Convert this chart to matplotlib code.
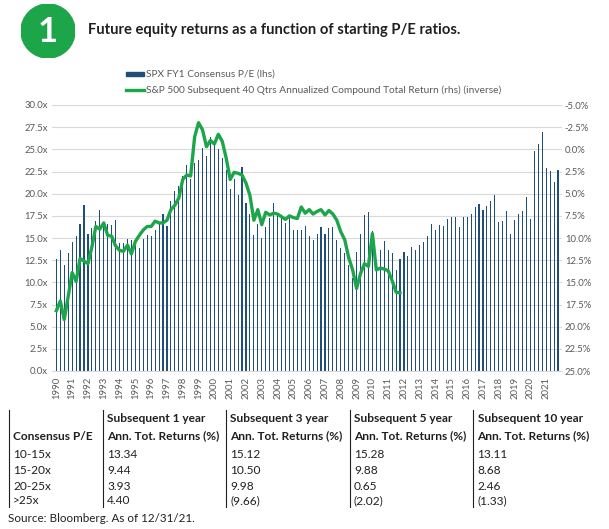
import matplotlib
matplotlib.use("Agg")
import matplotlib.pyplot as plt
import numpy as np
from matplotlib.patches import Circle, Rectangle
from matplotlib.lines import Line2D

plt.rcParams['font.family'] = ['Lato', 'DejaVu Sans']

# quarterly data, 1990 Q1 .. 2021 Q4
years = list(range(1990, 2022))
pe = [
    12.6, 13.7, 12.0, 13.3,  14.5, 15.2, 16.6, 18.7,  15.5, 16.1, 16.9, 18.2,
    16.2, 16.6, 16.5, 17.0,  14.4, 14.4, 14.9, 14.8,  14.7, 13.9, 14.9, 15.3,
    15.2, 15.9, 16.7, 17.7,  16.4, 19.2, 20.3, 20.9,  22.0, 23.2, 21.6, 23.5,
    23.8, 25.2, 24.3, 26.4,  25.6, 25.0, 24.0, 22.7,  20.5, 21.7, 19.9, 23.0,
    19.0, 17.7, 15.3, 16.6,  15.0, 16.2, 17.3, 18.9,  17.6, 17.4, 16.7, 17.3,
    15.9, 15.9, 15.9, 16.3,  15.2, 14.8, 15.4, 16.2,  15.4, 16.1, 16.2, 14.8,
    13.9, 13.3, 12.0, 10.5,  13.4, 15.5, 17.6, 17.9,  15.8, 12.0, 13.7, 14.7,
    13.6, 13.3, 11.4, 12.6,  13.4, 13.0, 14.0, 13.7,  14.2, 14.5, 15.2, 16.6,
    15.9, 16.5, 16.4, 17.1,  17.4, 17.4, 16.2, 17.4,  17.4, 17.7, 18.5, 18.8,
    18.2, 18.6, 19.2, 19.9,  16.8, 16.9, 18.0, 15.4,  17.0, 17.7, 18.0, 19.6,
    17.1, 24.8, 25.6, 27.0,  22.9, 22.6, 21.3, 22.7,
]
# subsequent 10y annualized return (%), 1990 Q1 .. 2011 Q4
ret10 = [
    18.2, 17.1, 19.2, 16.6,  13.9, 14.9, 12.3, 12.6,  12.9, 11.0, 8.7, 9.0,
    8.3, 9.7, 9.8, 10.9,  11.4, 11.5, 10.8, 11.8,  10.4, 9.7, 9.1, 8.7,
    8.7, 8.1, 8.3, 8.3,  8.0, 6.8, 6.3, 5.5,  3.4, 2.9, 3.0, -1.4,
    -3.0, -2.2, -0.3, -1.0,  -0.6, -1.7, -0.9, 1.0,  3.4, 2.6, 2.7, 2.9,
    3.8, 5.2, 8.0, 6.8,  8.5, 7.1, 7.4, 7.2,  7.3, 7.6, 7.9, 7.5,
    7.7, 7.8, 6.5, 7.2,  6.8, 7.3, 7.0, 6.8,  7.4, 6.9, 7.3, 8.0,
    9.3, 10.2, 12.2, 13.6,  15.7, 14.0, 12.9, 13.2,  9.5, 13.6, 13.4, 13.5,
    13.7, 14.8, 16.1, 16.2,
]

# table
row_labels = ["10-15x", "15-20x", "20-25x", ">25x"]
col_heads = ["Subsequent 1 year", "Subsequent 3 year", "Subsequent 5 year", "Subsequent 10 year"]
ret_1y = ["13.34", "9.44", "3.93", "4.40"]
ret_3y = ["15.12", "10.50", "9.98", "(9.66)"]
ret_5y = ["15.28", "9.88", "0.65", "(2.02)"]
ret_10y = ["13.11", "8.68", "2.46", "(1.33)"]

W, H = 609, 529
fig = plt.figure(figsize=(W / 100, H / 100), dpi=100)


def fx(px):
    return px / W


def fy(py):
    return 1 - py / H


def fit_width(txt, target):
    fig.canvas.draw()
    w = txt.get_window_extent(fig.canvas.get_renderer()).width
    txt.set_fontsize(txt.get_fontsize() * target / w)


green = '#1DA54A'
navy = '#1F4E79'
grey = '#595959'
ink = '#231F20'

# badge + title
bax = fig.add_axes([fx(21), fy(58), 54 / W, 54 / H])
bax.set_xlim(0, 1)
bax.set_ylim(0, 1)
bax.axis('off')
bax.add_patch(Circle((0.5, 0.5), 0.5, color=green))
bax.text(0.5, 0.49, "1", color='white', fontsize=25, fontweight='bold',
         ha='center', va='center')

title = fig.text(fx(88), fy(30), "Future equity returns as a function of starting P/E ratios.",
                 fontsize=11, fontweight='bold', color=ink, va='center')
fit_width(title, 371)

# main chart
ax = fig.add_axes([fx(52), fy(371), fx(562) - fx(52), fy(105) - fy(371)])
x = np.arange(len(pe))
ax.bar(x, pe, width=0.28, color=navy, zorder=2)
ax.set_ylim(0, 30)
ax.set_yticks(np.arange(0, 30.1, 2.5))
ax.yaxis.set_major_formatter(lambda v, p: f"{v:.1f}x")
ax.set_xlim(-1.1, 128)
ax.set_xticks(np.arange(0, len(pe), 4))
ax.set_xticklabels([str(y) for y in years], rotation=90)
ax.grid(axis='y', color='#D9D9D9', linewidth=0.8)
ax.set_axisbelow(True)
ax.tick_params(length=0, labelsize=6.8, labelcolor=grey)
ax.tick_params(axis='y', pad=3)
ax.tick_params(axis='x', pad=4)
for s in ax.spines.values():
    s.set_visible(False)
ax.spines['bottom'].set_visible(True)
ax.spines['bottom'].set_color('#D9D9D9')

ax2 = ax.twinx()
ax2.plot(np.arange(len(ret10)), ret10, color=green, lw=2.4, solid_joinstyle='round', zorder=3)
ax2.set_ylim(25, -5)
ax2.set_yticks(np.arange(-5, 25.1, 2.5))
ax2.yaxis.set_major_formatter(lambda v, p: f"{v:.1f}%")
ax2.tick_params(length=0, labelsize=6.8, labelcolor=grey, pad=2)
for s in ax2.spines.values():
    s.set_visible(False)

# legend (drawn by hand to sit above the plot)
fig.patches.append(Rectangle((fx(126), fy(76)), 18 / W, 4 / H, color=navy,
                             transform=fig.transFigure, figure=fig))
fig.lines.append(Line2D([fx(126), fx(144)], [fy(90), fy(90)], color=green, lw=2.4,
                        transform=fig.transFigure, figure=fig))
leg1 = fig.text(fx(146), fy(74), "SPX FY1 Consensus P/E (lhs)", fontsize=6.5,
                color=grey, va='center')
leg2 = fig.text(fx(146), fy(90),
                "S&P 500 Subsequent 40 Qtrs Annualized Compound Total Return (rhs) (inverse)",
                fontsize=6.5, color=grey, va='center')
fit_width(leg2, 352)
leg1.set_fontsize(leg2.get_fontsize())

# table
col_x = [8.5, 102.5, 226, 349.5, 473]
for cx in col_x:
    fig.lines.append(Line2D([fx(cx), fx(cx)], [fy(410), fy(507)], color=ink, lw=0.8,
                            transform=fig.transFigure, figure=fig))
fs = 8.6
fig.text(fx(col_x[0] + 4.5), fy(436), "Consensus P/E", fontsize=fs, fontweight='bold',
         color=ink, va='center')
columns = [ret_1y, ret_3y, ret_5y, ret_10y]
for j, head in enumerate(col_heads):
    tx = fx(col_x[j + 1] + 4.5)
    fig.text(tx, fy(419), head, fontsize=fs, fontweight='bold', color=ink, va='center')
    fig.text(tx, fy(436), "Ann. Tot. Returns (%)", fontsize=fs, fontweight='bold',
             color=ink, va='center')
row_y = [455, 470.5, 486, 501]
for i, lab in enumerate(row_labels):
    fig.text(fx(col_x[0] + 4.5), fy(row_y[i]), lab, fontsize=fs, color=ink, va='center')
    for j, col in enumerate(columns):
        fig.text(fx(col_x[j + 1] + 4.5), fy(row_y[i]), col[i], fontsize=fs, color=ink,
                 va='center')

fig.text(fx(8), fy(518), "Source: Bloomberg. As of 12/31/21.", fontsize=8.4, color=ink,
         va='center')

fig.savefig("out.png", dpi=100)
